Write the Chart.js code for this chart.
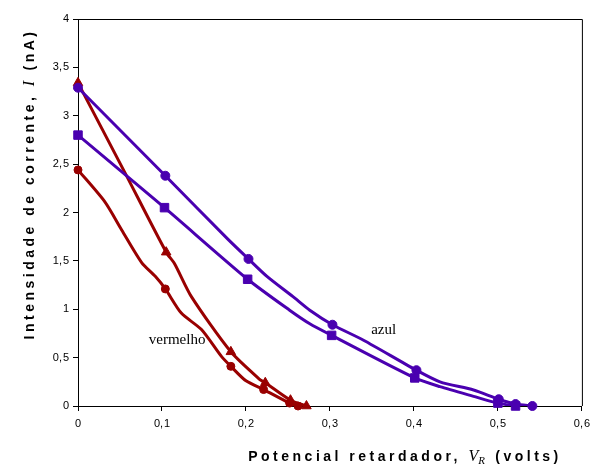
<!DOCTYPE html>
<html>
<head>
<meta charset="utf-8">
<script src="https://cdn.jsdelivr.net/npm/chart.js@4"></script>
<style>
  body { margin: 0; background: #fff; }
  canvas { display: block; }
</style>
</head>
<body>
<canvas id="myChart" width="596" height="467"></canvas>
<script>
// valores (V em volts, I em nA)
const azulCirculoX = [0, 0.104, 0.203, 0.303, 0.403, 0.501, 0.521, 0.541];
const azulCirculoY = [3.29, 2.38, 1.52, 0.84, 0.37, 0.07, 0.02, 0.0];
const azulCirculoCurvaX = [0, 0.104, 0.179, 0.203, 0.225, 0.256, 0.276, 0.303, 0.34, 0.403, 0.431, 0.471, 0.501, 0.521, 0.541];
const azulCirculoCurvaY = [3.29, 2.38, 1.72, 1.52, 1.34, 1.13, 0.99, 0.84, 0.68, 0.37, 0.25, 0.165, 0.07, 0.02, 0.0];

const azulQuadX = [0, 0.103, 0.202, 0.302, 0.401, 0.5, 0.521];
const azulQuadY = [2.80, 2.05, 1.31, 0.73, 0.29, 0.03, 0.0];
const azulQuadCurvaX = [0, 0.103, 0.202, 0.252, 0.276, 0.302, 0.401, 0.431, 0.471, 0.5, 0.521];
const azulQuadCurvaY = [2.80, 2.05, 1.31, 0.99, 0.85, 0.73, 0.29, 0.2, 0.1, 0.03, 0.0];

const vermTriX = [0, 0.105, 0.182, 0.223, 0.253, 0.272];
const vermTriY = [3.34, 1.59, 0.56, 0.24, 0.06, 0.0];
const vermTriCurvaX = [0, 0.056, 0.105, 0.115, 0.135, 0.182, 0.217, 0.223, 0.253, 0.272];
const vermTriCurvaY = [3.34, 2.41, 1.59, 1.47, 1.13, 0.56, 0.27, 0.24, 0.06, 0.0];

const vermCircX = [0, 0.104, 0.182, 0.221, 0.252, 0.262];
const vermCircY = [2.44, 1.21, 0.41, 0.17, 0.03, 0.0];
const vermCircCurvaX = [0, 0.032, 0.052, 0.076, 0.092, 0.104, 0.123, 0.147, 0.171, 0.182, 0.2, 0.221, 0.252, 0.262];
const vermCircCurvaY = [2.44, 2.11, 1.82, 1.48, 1.34, 1.21, 0.96, 0.79, 0.51, 0.41, 0.26, 0.17, 0.03, 0.0];

const xTickLabels = ['0', '0,1', '0,2', '0,3', '0,4', '0,5', '0,6'];
const yTickLabels = ['0', '0,5', '1', '1,5', '2', '2,5', '3', '3,5', '4'];

const rotulos = [
  { texto: 'vermelho', x: 0.118, y: 0.68 },
  { texto: 'azul', x: 0.364, y: 0.78 }
];

const AZUL = '#4a00b0';
const VERMELHO = '#990000';

const pares = (xs, ys) => xs.map((x, i) => ({ x: x, y: ys[i] }));

const curva = (xs, ys, cor) => ({
  data: pares(xs, ys),
  showLine: true,
  borderColor: cor,
  borderWidth: 3,
  pointRadius: 0,
  tension: 0.25
});

const marcas = (xs, ys, cor, estilo, raio) => ({
  data: pares(xs, ys),
  showLine: false,
  backgroundColor: cor,
  borderColor: cor,
  pointStyle: estilo,
  pointRadius: raio,
  pointBorderWidth: 1,
  clip: false
});

const espaco = s => s.replace(',', ',\u200A');

function escreverPartes(ctx, partes) {
  let total = 0;
  partes.forEach(p => {
    ctx.font = p.f;
    ctx.letterSpacing = p.ls || '0px';
    p.w = ctx.measureText(p.t).width;
    total += p.w;
  });
  let x = -total / 2;
  partes.forEach(p => {
    ctx.font = p.f;
    ctx.letterSpacing = p.ls || '0px';
    ctx.fillText(p.t, x, p.dy || 0);
    x += p.w;
  });
}

const NEGRITO = 'bold 14px "Liberation Sans", Arial, sans-serif';
const ITALICO = 'italic 16px "Liberation Serif", "Times New Roman", serif';
const SUB = 'italic 11px "Liberation Serif", "Times New Roman", serif';

const extras = {
  id: 'extras',
  beforeDatasetsDraw(chart) {
    const { ctx, chartArea: a } = chart;
    ctx.save();
    ctx.strokeStyle = '#000';
    ctx.lineWidth = 1;
    ctx.beginPath();
    ctx.moveTo(a.left, a.top + 0.5);
    ctx.lineTo(a.right + 0.5, a.top + 0.5);
    ctx.lineTo(a.right + 0.5, a.bottom);
    ctx.stroke();
    ctx.restore();
  },
  afterDraw(chart) {
    const { ctx, scales } = chart;
    ctx.save();
    ctx.fillStyle = '#000';
    ctx.textBaseline = 'middle';
    ctx.textAlign = 'left';

    rotulos.forEach(r => {
      ctx.font = '15px "Liberation Serif", "Times New Roman", serif';
      const w = ctx.measureText(r.texto).width;
      ctx.fillText(r.texto, scales.x.getPixelForValue(r.x) - w / 2, scales.y.getPixelForValue(r.y));
    });

    ctx.save();
    ctx.translate(405, 457);
    escreverPartes(ctx, [
      { t: 'Potencial retardador, ', f: NEGRITO, ls: '3.5px' },
      { t: 'V', f: ITALICO },
      { t: 'R', f: SUB, dy: 4, ls: '3px' },
      { t: ' (volts)', f: NEGRITO, ls: '3.5px' }
    ]);
    ctx.restore();

    ctx.save();
    ctx.translate(30, 184);
    ctx.rotate(-Math.PI / 2);
    escreverPartes(ctx, [
      { t: 'Intensidade de corrente, ', f: NEGRITO, ls: '3.5px' },
      { t: 'I', f: ITALICO, ls: '3px' },
      { t: ' (nA)', f: NEGRITO, ls: '3.5px' }
    ]);
    ctx.restore();

    ctx.restore();
  }
};

const ctx = document.getElementById('myChart');
new Chart(ctx, {
  type: 'scatter',
  data: {
    datasets: [
      curva(azulCirculoCurvaX, azulCirculoCurvaY, AZUL),
      curva(azulQuadCurvaX, azulQuadCurvaY, AZUL),
      marcas(azulCirculoX, azulCirculoY, AZUL, 'circle', 4.5),
      marcas(azulQuadX, azulQuadY, AZUL, 'rect', 6),
      curva(vermTriCurvaX, vermTriCurvaY, VERMELHO),
      curva(vermCircCurvaX, vermCircCurvaY, VERMELHO),
      marcas(vermTriX, vermTriY, VERMELHO, 'triangle', 5.5),
      marcas(vermCircX, vermCircY, VERMELHO, 'circle', 4)
    ]
  },
  options: {
    responsive: false,
    devicePixelRatio: 1,
    animation: false,
    layout: { padding: { top: 19, right: 14, left: 0, bottom: 0 } },
    plugins: {
      legend: { display: false },
      tooltip: { enabled: false }
    },
    scales: {
      x: {
        type: 'linear',
        min: 0,
        max: 0.6,
        afterFit: s => { s.height = 61; },
        afterBuildTicks: s => { s.ticks = xTickLabels.map((_, i) => ({ value: i / 10 })); },
        ticks: {
          color: '#000',
          padding: 6,
          maxRotation: 0,
          font: { family: '"Liberation Sans", Arial, sans-serif', size: 11 },
          callback: (v, i) => espaco(xTickLabels[i])
        },
        grid: { drawOnChartArea: false, drawTicks: true, tickLength: 5, color: '#000' },
        border: { display: true, color: '#000', width: 1 }
      },
      y: {
        type: 'linear',
        min: 0,
        max: 4,
        afterFit: s => { s.width = 78; },
        afterBuildTicks: s => { s.ticks = yTickLabels.map((_, i) => ({ value: i / 2 })); },
        ticks: {
          color: '#000',
          padding: 4,
          font: { family: '"Liberation Sans", Arial, sans-serif', size: 11 },
          callback: (v, i) => espaco(yTickLabels[i])
        },
        grid: { drawOnChartArea: false, drawTicks: true, tickLength: 5, color: '#000' },
        border: { display: true, color: '#000', width: 1 }
      }
    }
  },
  plugins: [extras]
});
</script>
</body>
</html>
